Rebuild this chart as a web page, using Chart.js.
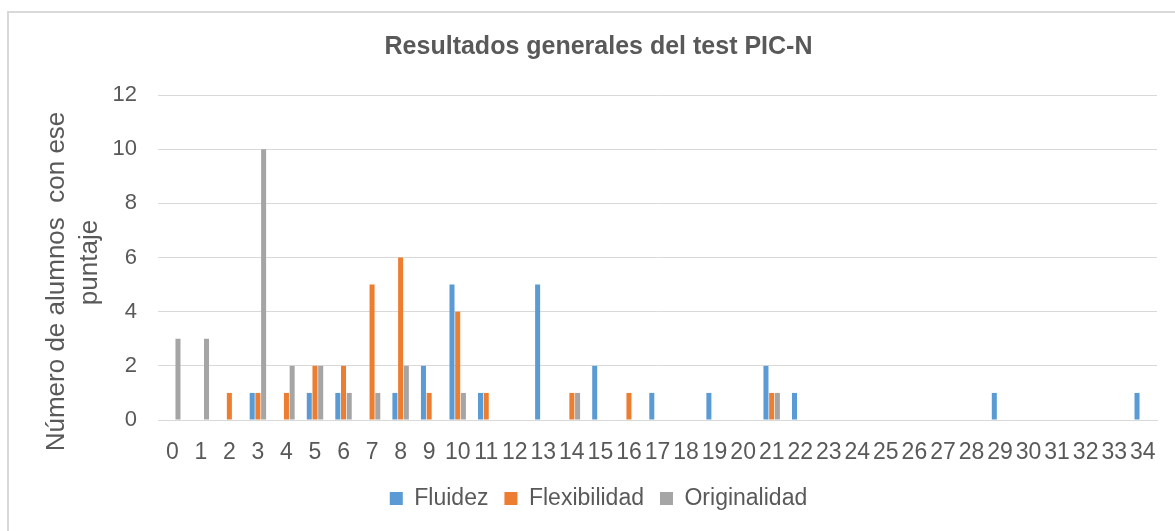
<!DOCTYPE html>
<html>
<head>
<meta charset="utf-8">
<script src="https://cdn.jsdelivr.net/npm/chart.js@4.4.1/dist/chart.umd.min.js"></script>
<style>
  html, body { margin: 0; padding: 0; background: #fff; }
  #frame {
    position: absolute; left: 7px; top: 11px; width: 1180px; height: 540px;
    border-left: 2px solid #d9d9d9; border-top: 2px solid #d9d9d9;
  }
  #wrap { position: absolute; left: 0; top: 0; width: 1175px; height: 531px; }
</style>
</head>
<body>
<div id="frame"></div>
<div id="wrap"><canvas id="chart"></canvas></div>
<script>
// scores 0..34
var puntajes = ['0','1','2','3','4','5','6','7','8','9','10','11','12','13','14','15','16',
    '17','18','19','20','21','22','23','24','25','26','27','28','29','30','31','32','33','34'];

var fluidez = [0,0,0,1,0,1,1,0,1,2,5,1,0,5,0,2,0,1,0,1,0,2,1,0,0,0,0,0,0,1,0,0,0,0,1];
var flexibilidad = [0,0,1,1,1,2,2,5,6,1,4,1,0,0,1,0,1,0,0,0,0,1,0,0,0,0,0,0,0,0,0,0,0,0,0];
var originalidad = [3,3,0,10,2,2,1,1,2,0,1,0,0,0,1,0,0,0,0,0,0,1,0,0,0,0,0,0,0,0,0,0,0,0,0];

var yTicks = [0, 2, 4, 6, 8, 10, 12];
var yTitleLines = ['Número de alumnos  con ese', 'puntaje'];

var textColor = '#595959';
var fontName = "'Liberation Sans', Arial, sans-serif";

// y axis title drawn by hand so each wrapped line sits like the original
var yTitlePlugin = {
    id: 'yTitle',
    afterDraw: function (chart) {
        var c = chart.ctx;
        var area = chart.chartArea;
        var mid = (area.top + area.bottom) / 2;
        c.save();
        c.fillStyle = textColor;
        c.font = '26px ' + fontName;
        c.textAlign = 'center';
        c.textBaseline = 'middle';
        c.translate(57, mid + 24);
        c.rotate(-Math.PI / 2);
        c.fillText(yTitleLines[0], 0, 0);
        c.fillText(yTitleLines[1], 19, 33);
        c.restore();
    }
};

var ctx = document.getElementById('chart').getContext('2d');
var chart = new Chart(ctx, {
    type: 'bar',
    data: {
        labels: puntajes,
        datasets: [
            { label: 'Fluidez', data: fluidez, backgroundColor: '#5B9BD5' },
            { label: 'Flexibilidad', data: flexibilidad, backgroundColor: '#ED7D31' },
            { label: 'Originalidad', data: originalidad, backgroundColor: '#A5A5A5' }
        ]
    },
    options: {
        responsive: true,
        maintainAspectRatio: false,
        animation: false,
        datasets: {
            bar: { categoryPercentage: 0.6, barPercentage: 0.88 }
        },
        layout: { padding: { left: 40, right: 18, top: 0, bottom: 11 } },
        plugins: {
            title: {
                display: true,
                text: 'Resultados generales del test PIC-N',
                color: textColor,
                font: { family: fontName, size: 25, weight: 'bold' },
                padding: { top: 32, bottom: 33 }
            },
            legend: {
                position: 'bottom',
                labels: {
                    color: textColor,
                    font: { family: fontName, size: 23 },
                    usePointStyle: true,
                    pointStyle: 'rect',
                    boxWidth: 13,
                    boxHeight: 13,
                    padding: 16
                }
            },
            tooltip: { enabled: false }
        },
        scales: {
            x: {
                grid: { display: false },
                border: { color: '#d9d9d9' },
                afterFit: function (scale) { scale.height = 51; },
                ticks: {
                    color: textColor,
                    font: { family: fontName, size: 23 },
                    autoSkip: false,
                    maxRotation: 0,
                    padding: 11
                }
            },
            y: {
                min: 0,
                max: 12,
                afterBuildTicks: function (scale) {
                    scale.ticks = yTicks.map(function (v) { return { value: v }; });
                },
                afterFit: function (scale) { scale.width = 118; },
                grid: { color: '#d9d9d9', drawTicks: false },
                border: { display: false },
                ticks: {
                    color: textColor,
                    font: { family: fontName, size: 22 },
                    padding: 21
                }
            }
        }
    },
    plugins: [yTitlePlugin]
});
</script>
</body>
</html>
